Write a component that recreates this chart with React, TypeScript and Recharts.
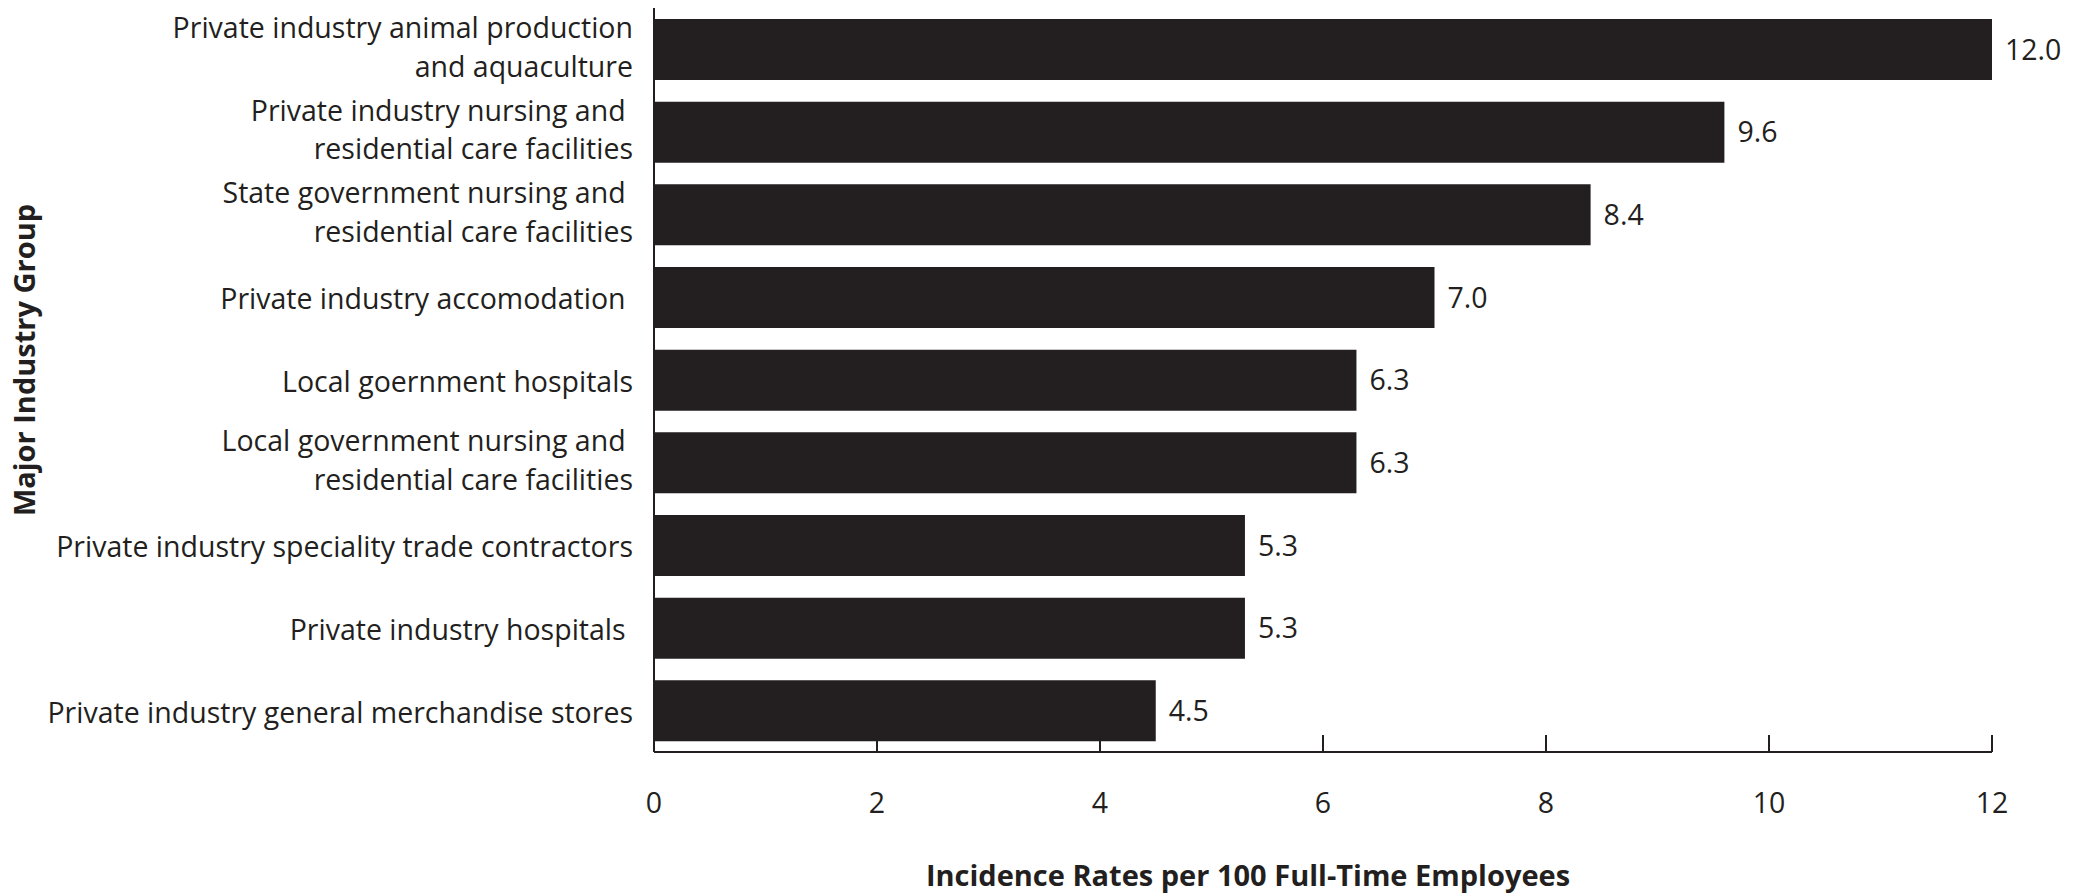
import { BarChart, Bar, XAxis, YAxis, LabelList } from 'recharts';

// 行业分类（\n 为换行）
const industries = [
  'Private industry animal production\nand aquaculture',
  'Private industry nursing and \nresidential care facilities',
  'State government nursing and \nresidential care facilities',
  'Private industry accomodation ',
  'Local goernment hospitals',
  'Local government nursing and \nresidential care facilities',
  'Private industry speciality trade contractors',
  'Private industry hospitals ',
  'Private industry general merchandise stores',
];

// 每 100 名全职员工的发生率
const rates = [12.0, 9.6, 8.4, 7.0, 6.3, 6.3, 5.3, 5.3, 4.5];

const rateTicks = [0, 2, 4, 6, 8, 10, 12];

const yTitle = 'Major Industry Group';
const xTitle = 'Incidence Rates per 100 Full-Time Employees';

const INK = '#231f20';
const FONT = '"Open Sans", sans-serif';
const TEXT_SIZE = 28.5;
const TITLE_SIZE = 29;

const data = industries.map((name, i) => ({ name, rate: rates[i] }));

// 行业名称刻度（多行右对齐）
const IndustryTick = ({ x, y, payload }: any) => {
  const lines = String(payload.value).split('\n');
  const lh = 38.5;
  const shift = lines.length > 1 ? -2 : 2;
  const top = y + shift - ((lines.length - 1) * lh) / 2;
  return (
    <text
      x={x - 21}
      y={top}
      textAnchor="end"
      fill={INK}
      fontFamily={FONT}
      fontSize={TEXT_SIZE}
      style={{ whiteSpace: 'pre' }}
    >
      {lines.map((l, i) => (
        <tspan key={i} x={x - 21} y={top + i * lh} dy="0.35em">
          {l}
        </tspan>
      ))}
    </text>
  );
};

// 数值刻度：向上的短刻度线 + 下方数字
const RateTick = ({ x, y, payload }: any) => (
  <g>
    <line x1={x} x2={x} y1={y} y2={y - 17} stroke={INK} strokeWidth={2} />
    <text
      x={x}
      y={y + 51}
      dy="0.35em"
      textAnchor="middle"
      fill={INK}
      fontFamily={FONT}
      fontSize={TEXT_SIZE}
    >
      {payload.value}
    </text>
  </g>
);

export default function App() {
  return (
    <div style={{ position: 'absolute', left: 0, top: 0, background: '#fff' }}>
      <BarChart
        width={2082}
        height={893}
        data={data}
        layout="vertical"
        margin={{ top: 8, right: 90, bottom: 0, left: 0 }}
      >
        <XAxis
          type="number"
          dataKey="rate"
          domain={[0, 12]}
          ticks={rateTicks}
          height={141}
          tickSize={0}
          tickMargin={0}
          tickLine={false}
          tick={<RateTick />}
          axisLine={{ stroke: INK, strokeWidth: 2 }}
          label={{
            content: ({ viewBox }: any) => (
              <text
                x={viewBox.x + viewBox.width / 2 - 75}
                y={876}
                dy="0.35em"
                textAnchor="middle"
                fill={INK}
                fontFamily={FONT}
                fontWeight={700}
                fontSize={TITLE_SIZE}
              >
                {xTitle}
              </text>
            ),
          }}
        />
        <YAxis
          type="category"
          dataKey="name"
          width={654}
          tickSize={0}
          tickMargin={0}
          tickLine={false}
          interval={0}
          tick={<IndustryTick />}
          axisLine={{ stroke: INK, strokeWidth: 2 }}
          label={{
            content: () => (
              <text
                x={25}
                y={360}
                dy="0.35em"
                textAnchor="middle"
                transform="rotate(-90 25 360)"
                fill={INK}
                fontFamily={FONT}
                fontWeight={700}
                fontSize={TITLE_SIZE}
              >
                {yTitle}
              </text>
            ),
          }}
        />
        <Bar dataKey="rate" fill={INK} barSize={61} isAnimationActive={false}>
          <LabelList
            dataKey="rate"
            position="right"
            offset={13}
            formatter={(v: any) => Number(v).toFixed(1)}
            fill={INK}
            fontFamily={FONT}
            fontSize={TEXT_SIZE}
          />
        </Bar>
      </BarChart>
    </div>
  );
}
